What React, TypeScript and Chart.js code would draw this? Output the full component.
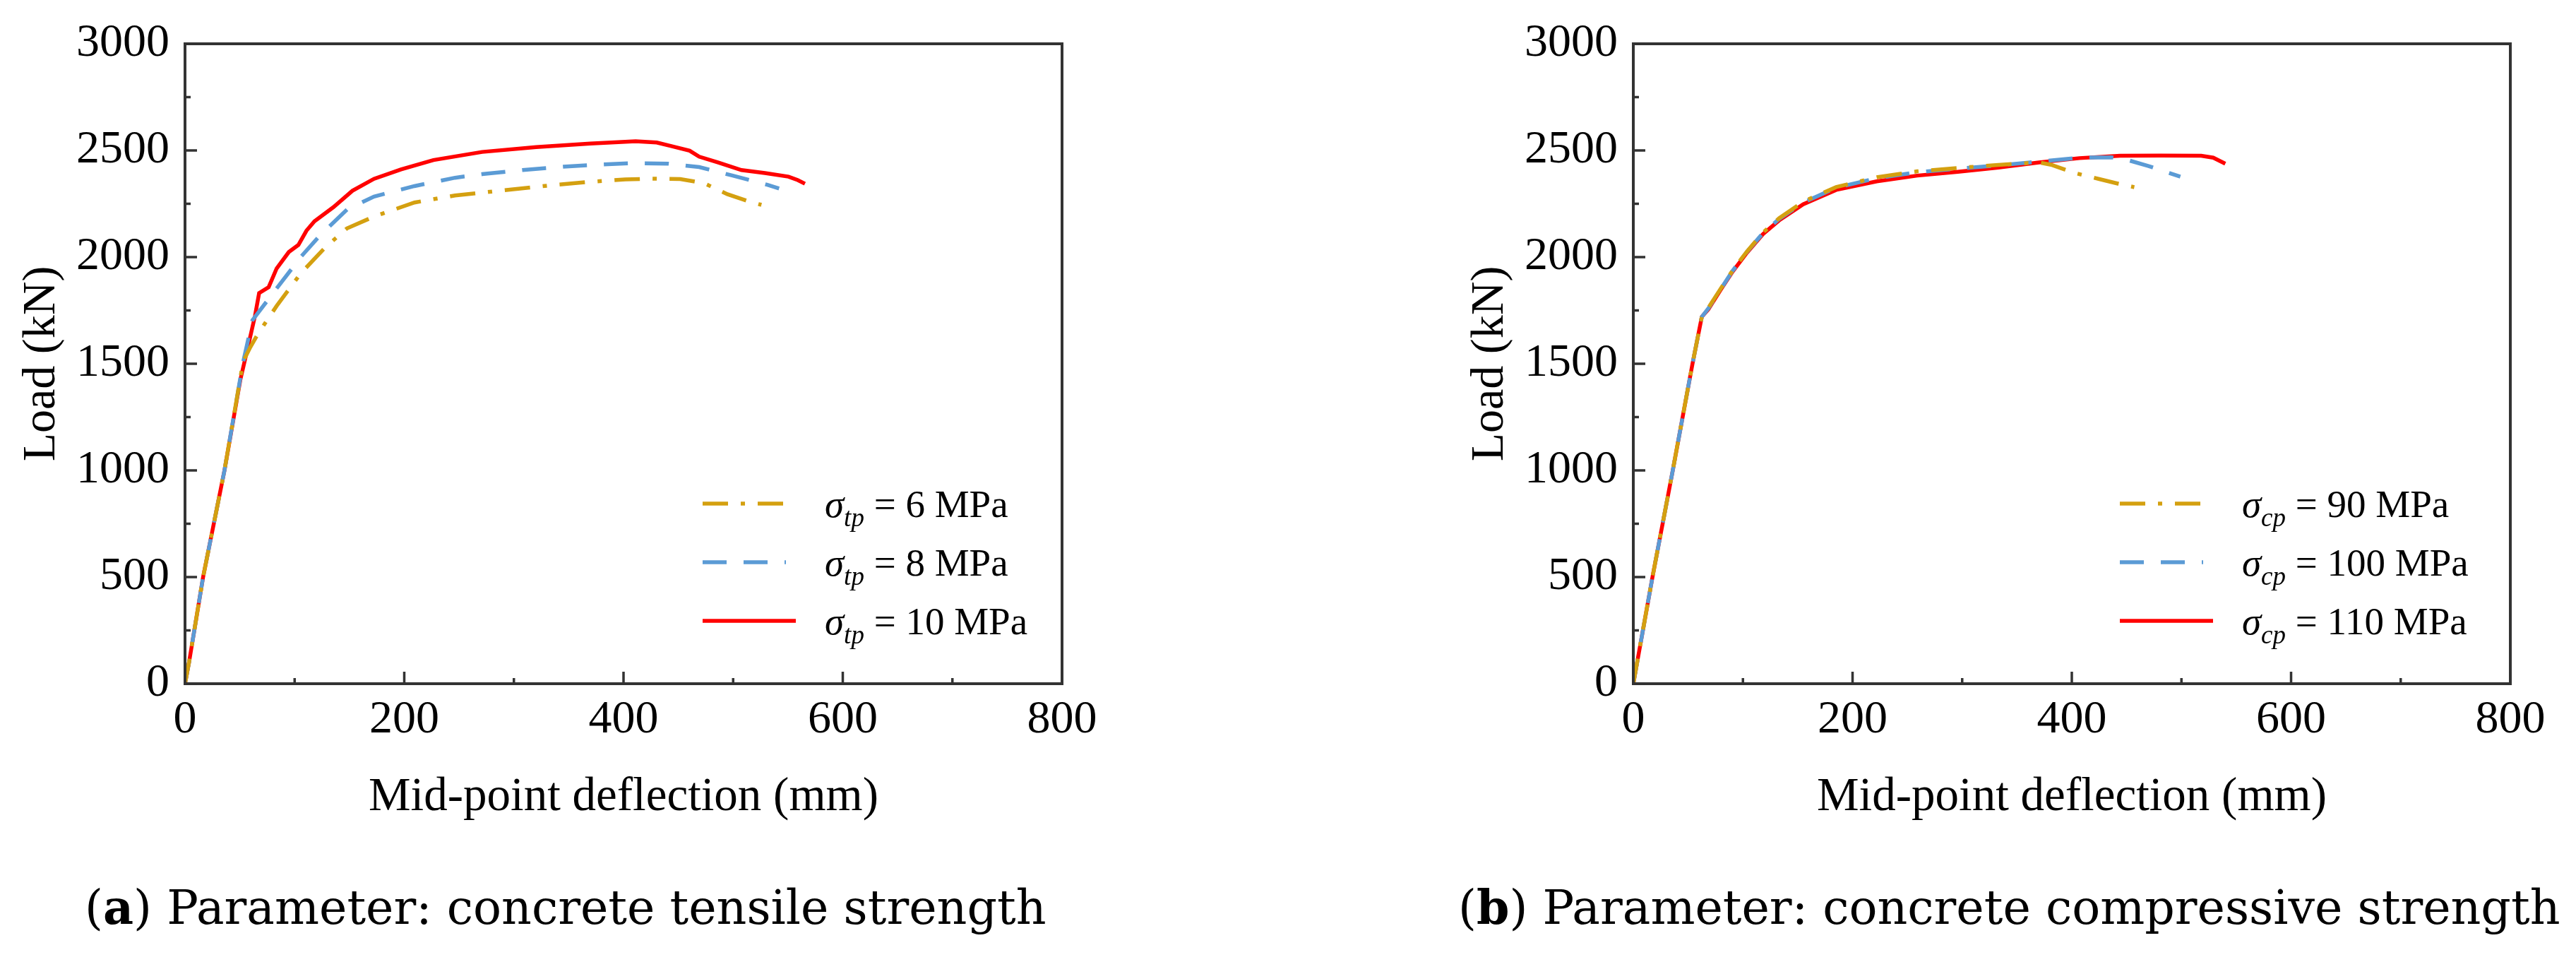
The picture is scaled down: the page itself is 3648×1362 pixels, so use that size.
import { useEffect, useRef } from "react";
import { Chart, registerables } from "chart.js";

Chart.register(...registerables);

const FONT = "'Times New Roman', 'Liberation Serif', serif";
const CAPTION_FONT = "'Palatino Linotype', 'DejaVu Serif', serif";
const GOLD = "#D4A010";
const BLUE = "#5B9BD5";
const RED = "#FF0000";
const AXIS = "#333333";

const xTickValues = [0, 200, 400, 600, 800];
const yTickValues = [0, 500, 1000, 1500, 2000, 2500, 3000];

// (a) concrete tensile strength
const tp6Deflection = [0, 3.8, 16.5, 36, 53, 59, 66.3, 83.6, 105.8, 128, 147.8, 172.4, 209.3, 246.3, 283.3, 332.6, 369.6, 401.6, 426, 451.7, 473.2, 494.7, 511.9, 525.8];
const tp6Load = [0, 104, 500, 1000, 1510, 1572, 1638, 1771, 1925, 2046, 2135, 2190, 2256, 2289, 2309, 2336, 2353, 2364, 2368, 2366, 2347, 2295, 2265, 2245];
const tp8Deflection = [0, 3.8, 16.5, 36, 52.7, 61.5, 81.2, 105.8, 123, 147.8, 172.4, 209.3, 246.3, 271, 308, 345, 374.5, 406.6, 441, 469, 499, 531.2, 541.9];
const tp8Load = [0, 104, 500, 1000, 1500, 1704, 1837, 2002, 2101, 2223, 2284, 2333, 2372, 2389, 2408, 2424, 2433, 2440, 2438, 2422, 2383, 2339, 2322];
const tp10Deflection = [0, 3.8, 16.5, 36, 50.4, 56.6, 63.9, 67.6, 76.3, 83.6, 94.7, 103.4, 110.8, 118.1, 135.4, 152.7, 172.4, 197, 226.6, 271, 320.3, 369.6, 411, 430.3, 443, 460.3, 469, 486, 507.6, 529, 550.5, 559, 565.5];
const tp10Load = [0, 104, 500, 1000, 1423, 1561, 1726, 1831, 1859, 1947, 2024, 2057, 2124, 2168, 2234, 2311, 2367, 2411, 2455, 2493, 2516, 2532, 2543, 2537, 2521, 2499, 2471, 2444, 2408, 2394, 2377, 2361, 2344];

// (b) concrete compressive strength
const cp90Deflection = [0, 17.5, 36, 45, 54, 62.5, 68.4, 79.5, 90.6, 103.6, 118.3, 133, 155, 185, 222, 259, 296, 333, 370, 381, 403, 425, 444, 457];
const cp90Load = [0, 500, 1000, 1250, 1500, 1720, 1762, 1850, 1938, 2026, 2115, 2182, 2260, 2328, 2374, 2402, 2418, 2432, 2444, 2433, 2394, 2366, 2342, 2328];
const cp100Deflection = [0, 17.5, 36, 45, 54, 62.5, 68.4, 79.5, 90.6, 103.6, 118.3, 133, 155, 185, 222, 259, 296, 333, 370, 407, 436, 451, 470, 499];
const cp100Load = [0, 500, 1000, 1250, 1500, 1720, 1759, 1848, 1936, 2024, 2113, 2179, 2256, 2325, 2370, 2398, 2415, 2430, 2448, 2466, 2468, 2455, 2427, 2377];
const cp110Deflection = [0, 17.5, 36, 45, 54, 62.5, 68.4, 79.5, 90.6, 103.6, 118.3, 133, 155, 185, 222, 259, 296, 333, 370, 407, 444, 481, 518, 529, 540];
const cp110Load = [0, 500, 1000, 1250, 1500, 1720, 1755, 1845, 1932, 2020, 2108, 2172, 2248, 2315, 2355, 2382, 2400, 2420, 2444, 2464, 2475, 2476, 2475, 2466, 2438];

const tensileLabels = ["6 MPa", "8 MPa", "10 MPa"];
const compressiveLabels = ["90 MPa", "100 MPa", "110 MPa"];

const DASH_DOT = [36, 18, 6, 18];
const DASH = [34, 24];

type Series = { value: string; deflection: number[]; load: number[]; color: string; dash: number[] };

// box + inward major/minor ticks, like the Origin plot
const frameTicks = {
  id: "frameTicks",
  afterDatasetsDraw(chart: any) {
    const { ctx, chartArea: a, scales } = chart;
    const major = 17;
    const minor = 8;
    ctx.save();
    ctx.strokeStyle = AXIS;
    ctx.lineWidth = 4;
    ctx.strokeRect(a.left, a.top, a.right - a.left, a.bottom - a.top);
    ctx.lineWidth = 3.5;
    ctx.beginPath();
    const xs = scales.x.ticks.map((t: any) => t.value);
    xs.forEach((v: number, i: number) => {
      const px = scales.x.getPixelForValue(v);
      ctx.moveTo(px, a.bottom);
      ctx.lineTo(px, a.bottom - major);
      if (i < xs.length - 1) {
        const m = scales.x.getPixelForValue((v + xs[i + 1]) / 2);
        ctx.moveTo(m, a.bottom);
        ctx.lineTo(m, a.bottom - minor);
      }
    });
    const ys = scales.y.ticks.map((t: any) => t.value);
    ys.forEach((v: number, i: number) => {
      const py = scales.y.getPixelForValue(v);
      ctx.moveTo(a.left, py);
      ctx.lineTo(a.left + major, py);
      if (i < ys.length - 1) {
        const m = scales.y.getPixelForValue((v + ys[i + 1]) / 2);
        ctx.moveTo(a.left, m);
        ctx.lineTo(a.left + minor, m);
      }
    });
    ctx.stroke();
    ctx.restore();
  },
};

// legend with italic sigma and subscript
const sigmaLegend = {
  id: "sigmaLegend",
  afterDraw(chart: any, _args: any, opts: any) {
    const { ctx, chartArea: a } = chart;
    ctx.save();
    chart.data.datasets.forEach((ds: any, i: number) => {
      const y = a.top + 651 + i * 83;
      const x0 = a.left + opts.lineX;
      const dashed = ds.borderDash && ds.borderDash.length > 0;
      ctx.strokeStyle = ds.borderColor;
      ctx.lineWidth = ds.borderWidth;
      ctx.setLineDash(ds.borderDash || []);
      ctx.beginPath();
      ctx.moveTo(x0, y);
      ctx.lineTo(x0 + (dashed ? 118 : 132), y);
      ctx.stroke();
      ctx.setLineDash([]);

      let tx = x0 + 173;
      const base = y + 19;
      ctx.fillStyle = "#000";
      ctx.textAlign = "left";
      ctx.textBaseline = "alphabetic";
      ctx.font = `italic 55px ${FONT}`;
      ctx.fillText("σ", tx, base);
      tx += ctx.measureText("σ").width;
      ctx.font = `italic 37px ${FONT}`;
      ctx.fillText(opts.sub, tx, base + 13);
      tx += ctx.measureText(opts.sub).width;
      ctx.font = `55px ${FONT}`;
      ctx.fillText(` = ${opts.values[i]}`, tx, base);
    });
    ctx.restore();
  },
};

function LoadChart({ sub, series, left, lineX }: { sub: string; series: Series[]; left: number; lineX: number }) {
  const canvasRef = useRef<HTMLCanvasElement>(null);

  useEffect(() => {
    if (!canvasRef.current) return;
    const tickFont = { family: FONT, size: 66 };
    const chart = new Chart(canvasRef.current, {
      type: "line",
      data: {
        datasets: series.map((s) => ({
          label: `σ${sub} = ${s.value}`,
          data: s.deflection.map((x, i) => ({ x, y: s.load[i] })),
          borderColor: s.color,
          borderWidth: 5.5,
          borderDash: s.dash,
          pointRadius: 0,
          tension: 0,
          fill: false,
        })),
      },
      options: {
        responsive: false,
        animation: false,
        layout: { padding: { left: 0, top: 62, right: 93, bottom: 0 } },
        plugins: {
          legend: { display: false },
          tooltip: { enabled: false },
          sigmaLegend: { sub, lineX, values: series.map((s) => s.value) },
        } as any,
        scales: {
          x: {
            type: "linear",
            min: 0,
            max: 800,
            grid: { display: false, drawTicks: false },
            border: { display: false },
            afterBuildTicks: (s: any) => {
              s.ticks = xTickValues.map((value) => ({ value }));
            },
            afterFit: (s: any) => {
              s.height = 232;
            },
            ticks: {
              font: tickFont,
              color: "#000",
              padding: 12,
              maxRotation: 0,
              autoSkip: false,
              callback: (v: any) => String(v),
            },
            title: {
              display: true,
              text: "Mid-point deflection (mm)",
              font: { family: FONT, size: 67 },
              color: "#000",
              padding: { top: 0, bottom: 30 },
            },
          },
          y: {
            type: "linear",
            min: 0,
            max: 3000,
            grid: { display: false, drawTicks: false },
            border: { display: false },
            afterBuildTicks: (s: any) => {
              s.ticks = yTickValues.map((value) => ({ value }));
            },
            afterFit: (s: any) => {
              s.width = 262;
            },
            ticks: {
              font: tickFont,
              color: "#000",
              padding: 22,
              autoSkip: false,
              callback: (v: any) => String(v),
            },
            title: {
              display: true,
              text: "Load (kN)",
              font: { family: FONT, size: 66 },
              color: "#000",
              padding: { top: 20, bottom: 0 },
            },
          },
        },
      },
      plugins: [frameTicks, sigmaLegend],
    });
    return () => chart.destroy();
  }, [sub, series, lineX]);

  return (
    <canvas
      ref={canvasRef}
      width={1597}
      height={1200}
      style={{ position: "absolute", left, top: 0, width: 1597, height: 1200 }}
    />
  );
}

const tensileSeries: Series[] = [
  { value: tensileLabels[0], deflection: tp6Deflection, load: tp6Load, color: GOLD, dash: DASH_DOT },
  { value: tensileLabels[1], deflection: tp8Deflection, load: tp8Load, color: BLUE, dash: DASH },
  { value: tensileLabels[2], deflection: tp10Deflection, load: tp10Load, color: RED, dash: [] },
];

const compressiveSeries: Series[] = [
  { value: compressiveLabels[0], deflection: cp90Deflection, load: cp90Load, color: GOLD, dash: DASH_DOT },
  { value: compressiveLabels[1], deflection: cp100Deflection, load: cp100Load, color: BLUE, dash: DASH },
  { value: compressiveLabels[2], deflection: cp110Deflection, load: cp110Load, color: RED, dash: [] },
];

const captionStyle = {
  position: "absolute" as const,
  top: 1252,
  fontFamily: CAPTION_FONT,
  fontSize: 66.5,
  lineHeight: "66px",
  whiteSpace: "nowrap" as const,
  color: "#000",
};

export default function App() {
  return (
    <div
      style={{
        position: "absolute",
        left: 0,
        top: 0,
        width: 3648,
        height: 1362,
        background: "#fff",
        overflow: "hidden",
      }}
    >
      <LoadChart sub="tp" series={tensileSeries} left={0} lineX={733} />
      <LoadChart sub="cp" series={compressiveSeries} left={2051} lineX={689} />
      <div style={{ ...captionStyle, left: 120 }}>
        (<b>a</b>) Parameter: concrete tensile strength
      </div>
      <div style={{ ...captionStyle, left: 2065 }}>
        (<b>b</b>) Parameter: concrete compressive strength
      </div>
    </div>
  );
}
